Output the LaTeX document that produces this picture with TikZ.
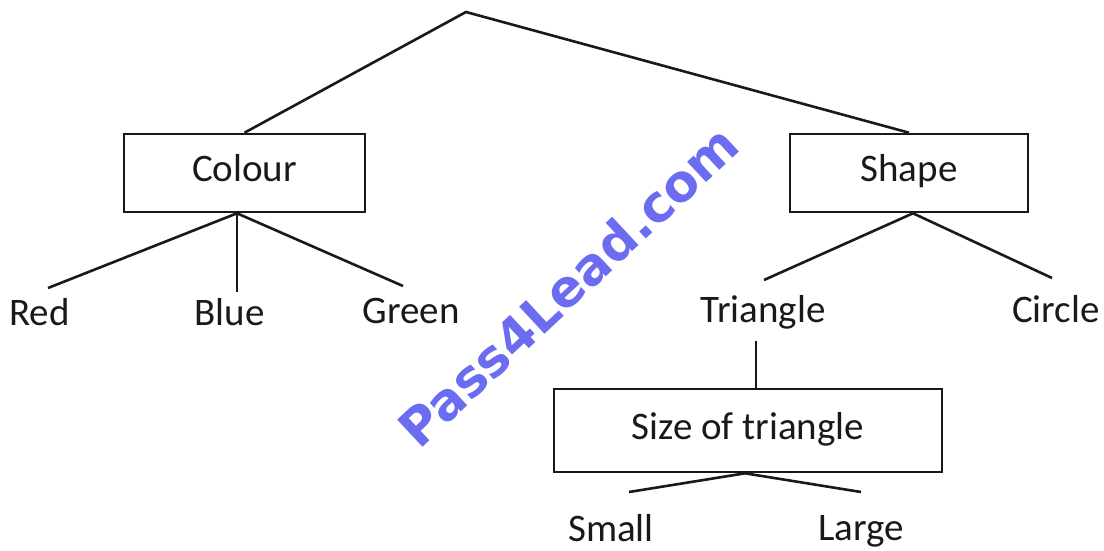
\documentclass[tikz,border=0pt]{standalone}
\usepackage{fontspec}
\setmainfont{Carlito}
\newfontfamily\wmfont{DejaVu Sans}
\usetikzlibrary{calc}
\definecolor{ink}{RGB}{25,25,25}
\definecolor{wmblue}{RGB}{108,108,240}
\begin{document}
\begin{tikzpicture}[x=1pt,y=-1pt,
  every node/.style={font=\fontsize{39}{47}\selectfont, text=ink},
  box/.style={draw=ink, line width=2.6pt, inner sep=0pt, text height=25pt, text depth=8pt},
  leaf/.style={anchor=base, inner sep=0pt},
  edge/.style={draw=ink, line width=2.6pt}]
\useasboundingbox (0,0) rectangle (1104,550);
% watermark
\node[font=\wmfont\bfseries\fontsize{51}{60}\selectfont, text=wmblue, rotate=43] (wm) at (568,286) {Pass4Lead.com};
% boxes
\node[box, minimum width=241pt, minimum height=78pt] (colour) at (244.5,173) {Colour};
\node[box, minimum width=238pt, minimum height=78pt] (shape) at (909,173) {Shape};
\node[box, minimum width=388pt, minimum height=83pt] (size) at (748,430.5) {Size of triangle};
% leaves
\node[leaf] (red) at (39.5,325) {Red};
\node[leaf] (blue) at (229.5,325) {Blue};
\node[leaf] (green) at (411,323) {Green};
\node[leaf] (triangle) at (763,322) {Triangle};
\node[leaf] (circle) at (1056,322) {Circle};
\node[leaf] (small) at (611,541) {Small};
\node[leaf] (large) at (861,540) {Large};
% connector ends
\coordinate (apex) at (466,12);
\coordinate (redend) at (48,288);
\coordinate (blueend) at (237,292);
\coordinate (greenend) at (403,286);
\coordinate (triend) at (764,280);
\coordinate (circend) at (1052,278);
\coordinate (tritop) at (756,341);
\coordinate (smallend) at (629,492);
\coordinate (largeend) at (861,492);
% connectors
\path[edge] (colour.north) -- (apex) -- (shape.north);
\path[edge] (redend) -- ($(colour.south)+(-7.5,0)$) -- (greenend);
\path[edge] ($(colour.south)+(-7.5,0)$) -- (blueend);
\path[edge] (triend) -- ($(shape.south)+(4,0)$) -- (circend);
\path[edge] (tritop) -- (tritop |- size.north);
\path[edge] (smallend) -- ($(size.south)+(-3,0)$) -- (largeend);
\end{tikzpicture}
\end{document}
